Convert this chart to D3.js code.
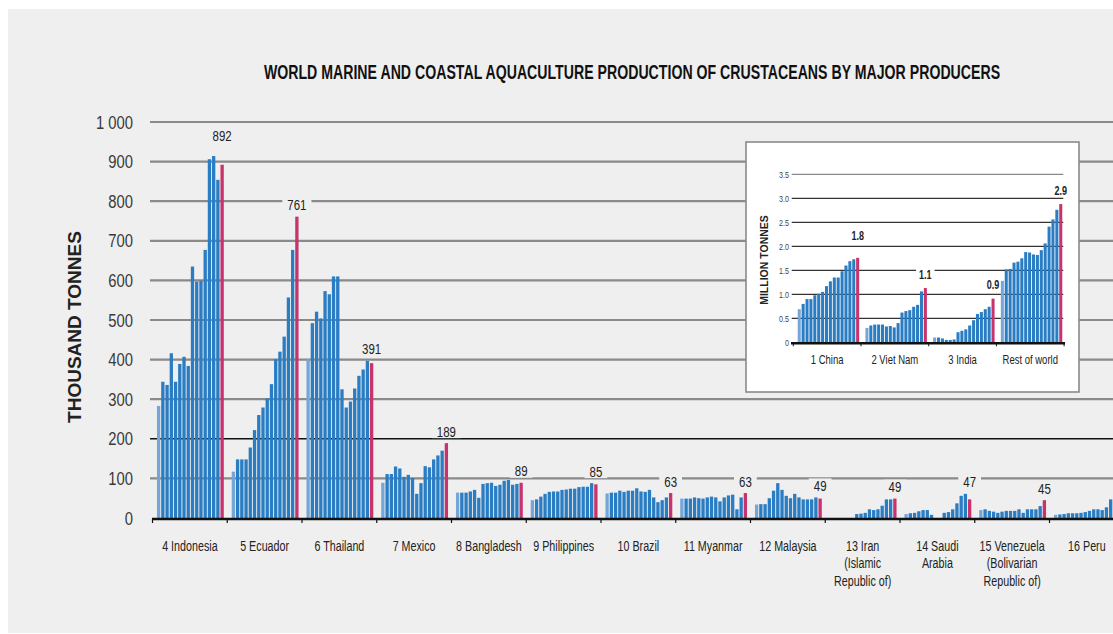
<!DOCTYPE html>
<html>
<head>
<meta charset="utf-8">
<script src="https://cdn.jsdelivr.net/npm/d3@7"></script>
<style>
  html, body { margin: 0; padding: 0; background: #ffffff; }
  svg { display: block; }
</style>
</head>
<body>
<svg id="chart" width="1113" height="634"></svg>
<script>
// ---------------- DATA ----------------
const years = ["2001","2002","2003","2004","2005","2006","2007","2008","2009","2010","2011","2012","2013","2014","2015","2016"];

const producers = ["4 Indonesia","5 Ecuador","6 Thailand","7 Mexico","8 Bangladesh","9 Philippines","10 Brazil","11 Myanmar","12 Malaysia","13 Iran (Islamic Republic of)","14 Saudi Arabia","15 Venezuela (Bolivarian Republic of)","16 Peru"];
const producerLabelLines = [
  ["4 Indonesia"],["5 Ecuador"],["6 Thailand"],["7 Mexico"],["8 Bangladesh"],["9 Philippines"],
  ["10 Brazil"],["11 Myanmar"],["12 Malaysia"],["13 Iran","(Islamic","Republic of)"],
  ["14 Saudi","Arabia"],["15 Venezuela","(Bolivarian","Republic of)"],["16 Peru"]
];

// thousand tonnes
const indonesia   = [283,344,336,416,344,389,407,384,635,597,599,677,906,914,854,892];
const ecuador     = [117,148,148,148,178,222,260,279,302,338,401,420,458,557,677,761];
const thailand    = [401,492,521,504,573,565,610,610,325,279,294,327,359,375,397,391];
const mexico      = [89,111,111,130,125,104,109,101,61,88,131,128,148,158,170,189];
const bangladesh  = [64,64,64,67,71,51,86,88,89,81,84,94,96,84,86,89];
const philippines = [45,47,54,61,66,67,67,71,72,74,74,78,79,79,88,85];
const brazil      = [62,64,64,69,66,69,69,75,67,66,71,52,40,45,52,63];
const myanmar     = [49,49,49,52,50,49,52,54,52,42,52,57,59,22,52,63];
const malaysia    = [34,35,35,50,69,88,71,56,50,61,52,47,47,47,52,49];
const iran        = [0,0,0,0,0,0,10,11,13,22,20,22,31,47,47,49];
const saudiArabia = [10,12,13,17,20,20,8,0,0,13,15,22,37,56,61,47];
const venezuela   = [20,22,18,16,13,16,18,18,18,22,13,22,22,22,30,45];
const peru        = [8,9,10,12,12,12,13,15,18,22,22,20,27,47,50,55];
const mainSeries = [indonesia,ecuador,thailand,mexico,bangladesh,philippines,brazil,myanmar,malaysia,iran,saudiArabia,venezuela,peru];
// Peru's label lies beyond the visible picture in the reference
const mainValueLabels = ["892","761","391","189","89","85","63","63","49","49","47","45",""];

const yTicks = [0,100,200,300,400,500,600,700,800,900,1000];
const yTickLabels = ["0","100","200","300","400","500","600","700","800","900","1 000"];

// inset: million tonnes
const insetGroups = ["1 China","2 Viet Nam","3 India","Rest of world"];
const china      = [0.69,0.80,0.90,0.90,0.98,1.01,1.05,1.17,1.27,1.35,1.35,1.48,1.60,1.69,1.73,1.76];
const vietNam    = [0.30,0.35,0.37,0.37,0.37,0.33,0.34,0.31,0.40,0.62,0.65,0.67,0.74,0.78,1.06,1.13];
const india      = [0.10,0.10,0.08,0.05,0.05,0.06,0.21,0.24,0.27,0.35,0.46,0.59,0.63,0.69,0.74,0.91];
const restOfWorld= [1.28,1.52,1.53,1.66,1.68,1.75,1.88,1.87,1.83,1.82,1.92,2.06,2.41,2.56,2.76,2.88];
const insetSeries = [china,vietNam,india,restOfWorld];
const insetValueLabels = ["1.8","1.1","0.9","2.9"];
const insetTicks = [0,0.5,1.0,1.5,2.0,2.5,3.0,3.5];
const insetTickLabels = ["0","0.5","1.0","1.5","2.0","2.5","3.0","3.5"];

// ---------------- STYLE / LAYOUT ----------------
const BG = "#efefef";
const BLUE = "#2a7dc3", BLUE_LIGHT = "#76a6d8", RED = "#c8336c";
const FONT = '"Liberation Sans", Arial, sans-serif';
const labelNudge = {"4 Indonesia": -9, "1 China": -8};

// condensed text: a text placed at (px,py) and squeezed horizontally by f
function ctext(parent, px, py, f) {
  return parent.append("text")
    .attr("transform", `translate(${px},${py}) scale(${f},1)`)
    .attr("x", 0).attr("y", 0);
}

const svg = d3.select("#chart");
svg.append("rect").attr("x",8).attr("y",9).attr("width",1105).attr("height",624).attr("fill",BG);

// title
ctext(svg, 632, 79, 0.69).attr("text-anchor","middle")
  .attr("font-family",FONT).attr("font-weight","bold").attr("font-size",20.5)
  .attr("fill","#111")
  .text("WORLD MARINE AND COASTAL AQUACULTURE PRODUCTION OF CRUSTACEANS BY MAJOR PRODUCERS");

// ---- main chart scales
const groupStep = 74.75, gx0 = 152.5;
const x = d3.scaleBand().domain(producers).range([gx0, gx0 + groupStep*producers.length]).padding(0);
const xi = d3.scaleBand().domain(years).range([4, groupStep-3]).paddingInner(0.22).paddingOuter(0.11);
const y = d3.scaleLinear().domain([0,1000]).range([518,122]);

// gridlines
svg.append("g").selectAll("line").data(yTicks.filter(d=>d>0)).join("line")
  .attr("x1",150).attr("x2",1113)
  .attr("y1",d=>y(d)).attr("y2",d=>y(d))
  .attr("stroke",d=> d===200 ? "#111" : "#8a8a8a")
  .attr("stroke-width",d=> d===200 ? 1.4 : 2.2);

// y tick labels
const yLab = svg.append("g");
yTicks.forEach((d,i)=>{
  ctext(yLab, 133, y(d), 0.78).attr("dy","0.35em").attr("text-anchor","end")
    .attr("font-family",FONT).attr("font-size",19).attr("fill","#3a3a3a")
    .text(yTickLabels[i]);
});

// y axis title
svg.append("text")
  .attr("transform","translate(81,327) rotate(-90)")
  .attr("text-anchor","middle")
  .attr("font-family",FONT).attr("font-weight","bold")
  .attr("font-size",19).attr("fill","#222")
  .text("THOUSAND TONNES");

// bars
const groups = svg.append("g").selectAll("g").data(producers).join("g")
  .attr("transform",d=>`translate(${x(d)},0)`);
groups.each(function(name, gi){
  const vals = mainSeries[gi];
  d3.select(this).selectAll("rect").data(vals).join("rect")
    .attr("x",(v,i)=>xi(years[i])).attr("width",xi.bandwidth())
    .attr("y",v=>y(v)).attr("height",v=>y(0)-y(v))
    .attr("fill",(v,i)=> i===vals.length-1 ? RED : (i===0 ? BLUE_LIGHT : BLUE));
});

// value labels (with background to break gridlines)
groups.each(function(name, gi){
  if (!mainValueLabels[gi]) return;
  const vals = mainSeries[gi];
  const last = vals.length-1;
  const cx = xi(years[last]) + xi.bandwidth()/2;
  const top = d3.max(vals.slice(-3));
  const cy = y(top) - 12 + (labelNudge[name]||0);
  const g = d3.select(this).append("g");
  const f = 0.74;
  const t = ctext(g, cx, cy, f).attr("dy","0.36em")
    .attr("text-anchor","middle").attr("font-family",FONT).attr("font-size",15.5)
    .attr("fill","#222").text(mainValueLabels[gi]);
  const w = t.node().getComputedTextLength()*f;
  g.insert("rect","text").attr("x",cx - w/2 - 5).attr("y",cy-7).attr("width",w+10).attr("height",14).attr("fill",BG);
});

// baseline and ticks
svg.append("line").attr("x1",152).attr("x2",1113).attr("y1",y(0)+1).attr("y2",y(0)+1)
  .attr("stroke","#111").attr("stroke-width",2.6);
svg.append("g").selectAll("line").data(producers).join("line")
  .attr("x1",d=>x(d)).attr("x2",d=>x(d)).attr("y1",y(0)+1).attr("y2",y(0)+5)
  .attr("stroke","#111").attr("stroke-width",1.2);

// x labels
const xLab = svg.append("g");
producers.forEach((d,i)=>{
  const t = ctext(xLab, x(d)+x.bandwidth()/2, 551, 0.74)
    .attr("text-anchor","middle").attr("font-family",FONT).attr("font-size",14.5).attr("fill","#222");
  t.selectAll("tspan").data(producerLabelLines[i]).join("tspan")
    .attr("x",0).attr("dy",(l,j)=> j===0 ? 0 : 17.5).text(l=>l);
});

// ---------------- INSET ----------------
const inset = svg.append("g");
inset.append("rect").attr("x",746).attr("y",142).attr("width",333).attr("height",250)
  .attr("fill","#ffffff").attr("stroke","#8a8a8a").attr("stroke-width",1.6);

const ix = d3.scaleBand().domain(insetGroups).range([793.3, 793.3 + 67.7*4]).padding(0);
const ixi = d3.scaleBand().domain(years).range([4, 66.3]).paddingInner(0.22).paddingOuter(0.11);
const iy = d3.scaleLinear().domain([0,3.5]).range([342.3,174.3]);

inset.append("g").selectAll("line").data(insetTicks.filter(d=>d>0)).join("line")
  .attr("x1",791.7).attr("x2",1063.3).attr("y1",d=>iy(d)).attr("y2",d=>iy(d))
  .attr("stroke",d=> d===3.5 ? "#8a8a8a" : "#333").attr("stroke-width",1.3);

const iyLab = inset.append("g");
insetTicks.forEach((d,i)=>{
  ctext(iyLab, 789, iy(d), 0.75).attr("dy","0.35em").attr("text-anchor","end")
    .attr("font-family",FONT).attr("font-size",9.5).attr("fill","#444")
    .text(insetTickLabels[i]);
});

inset.append("text").attr("transform","translate(768,260) rotate(-90)")
  .attr("text-anchor","middle").attr("font-family",FONT)
  .attr("font-weight","bold").attr("font-size",10.5).attr("fill","#222")
  .text("MILLION TONNES");

const igroups = inset.append("g").selectAll("g").data(insetGroups).join("g")
  .attr("transform",d=>`translate(${ix(d)},0)`);
igroups.each(function(name, gi){
  const vals = insetSeries[gi];
  d3.select(this).selectAll("rect").data(vals).join("rect")
    .attr("x",(v,i)=>ixi(years[i])).attr("width",ixi.bandwidth())
    .attr("y",v=>iy(v)).attr("height",v=>iy(0)-iy(v))
    .attr("fill",(v,i)=> i===vals.length-1 ? RED : (i===0 ? BLUE_LIGHT : BLUE));
  const last = vals.length-1;
  const cx = ixi(years[last]) + ixi.bandwidth()/2;
  const cy = iy(d3.max(vals.slice(-3))) - 14 + (labelNudge[name]||0);
  const g = d3.select(this).append("g");
  const f = 0.72;
  const t = ctext(g, cx, cy, f).attr("dy","0.36em")
    .attr("text-anchor","middle").attr("font-family",FONT).attr("font-weight","bold")
    .attr("font-size",12.5).attr("fill","#222").text(insetValueLabels[gi]);
  const w = t.node().getComputedTextLength()*f;
  g.insert("rect","text").attr("x",cx-w/2-3).attr("y",cy-5.5).attr("width",w+6).attr("height",11).attr("fill","#ffffff");
});

inset.append("line").attr("x1",791).attr("x2",1065).attr("y1",iy(0)+1).attr("y2",iy(0)+1)
  .attr("stroke","#111").attr("stroke-width",2.4);
inset.append("g").selectAll("line").data(insetGroups.concat(["end"])).join("line")
  .attr("x1",(d,i)=>793.3+67.7*i).attr("x2",(d,i)=>793.3+67.7*i)
  .attr("y1",iy(0)+1).attr("y2",iy(0)+4).attr("stroke","#111").attr("stroke-width",1);

const ixLab = inset.append("g");
insetGroups.forEach(d=>{
  ctext(ixLab, ix(d)+ix.bandwidth()/2, 364, 0.76)
    .attr("text-anchor","middle").attr("font-family",FONT).attr("font-size",12.5).attr("fill","#222")
    .text(d);
});
</script>
</body>
</html>
